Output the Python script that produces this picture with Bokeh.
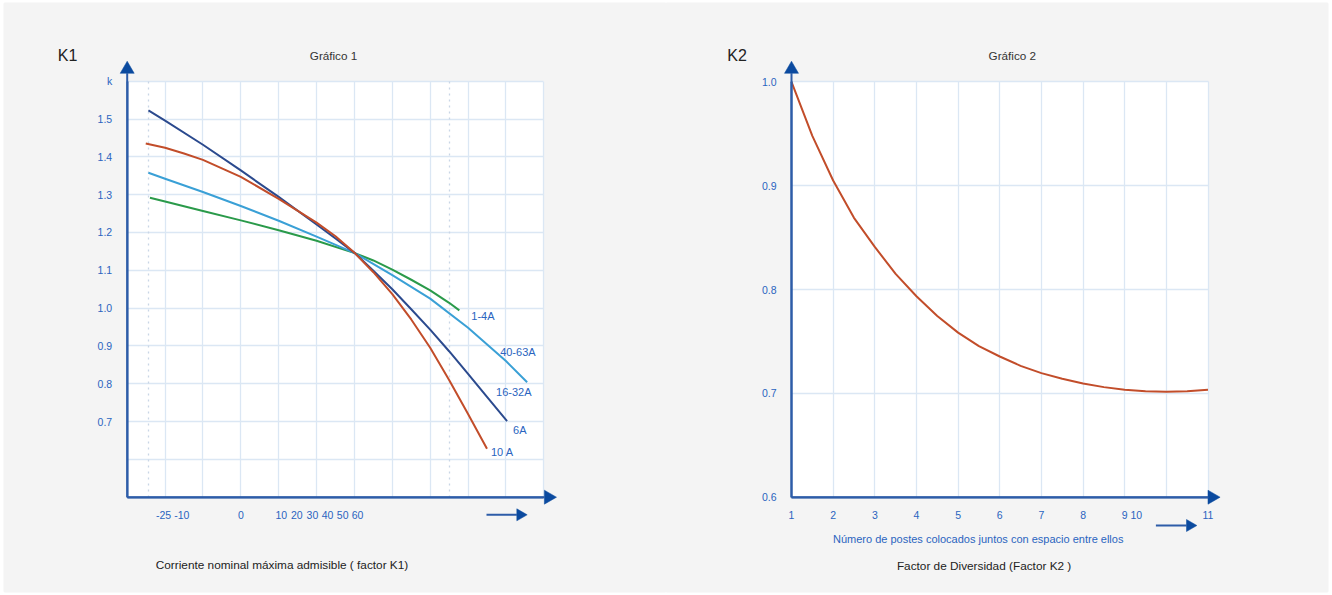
import math
from bokeh.plotting import figure
from bokeh.models import Range1d, FixedTicker, Grid, Label, AllLabels, BoxAnnotation
from bokeh.layouts import row
from bokeh.embed import file_html
from bokeh.resources import INLINE

# ---------------- DATA : Gráfico 1 (factor K1) ----------------
# x is measured in grid columns of the drawing (the scale is schematic)
k1_x_tick_labels = ["-25", "-10", "0", "10", "20", "30", "40", "50", "60"]
k1_x_tick_pos = [0.96, 1.44, 3.0, 4.07, 4.48, 4.89, 5.29, 5.69, 6.08]
k1_y_ticks = [0.6, 0.7, 0.8, 0.9, 1.0, 1.1, 1.2, 1.3, 1.4, 1.5, 1.6]
k1_y_tick_labels = ["", "0.7", "0.8", "0.9", "1.0", "1.1", "1.2", "1.3", "1.4", "1.5", "k"]
k1_grid_cols = [1, 2, 3, 4, 5, 6, 7, 8, 9, 10, 11]
k1_dotted_cols = [0.55, 8.5]

k1_series = ["1-4A", "40-63A", "16-32A", "6A", "10 A"]

x_1_4A = [0.60, 1, 2, 3, 4, 5, 6.01, 6.5, 7, 7.5, 8, 8.5, 8.77]
y_1_4A = [1.292, 1.282, 1.257, 1.232, 1.206, 1.178, 1.1455, 1.126, 1.102, 1.075, 1.047, 1.014, 0.994]

x_40_63A = [0.56, 1, 2, 3, 4, 5, 6.01, 7, 8, 9, 10, 10.56]
y_40_63A = [1.358, 1.342, 1.307, 1.270, 1.231, 1.189, 1.1455, 1.087, 1.025, 0.948, 0.860, 0.804]

x_6A = [0.56, 1, 2, 3, 4, 5, 5.5, 6.01, 6.5, 7, 7.5, 8, 8.5, 9, 9.5, 10.03]
y_6A = [1.523, 1.496, 1.432, 1.364, 1.294, 1.221, 1.184, 1.1455, 1.099, 1.050, 0.997, 0.943, 0.886, 0.826, 0.765, 0.701]

x_10A = [0.49, 1, 1.5, 2, 3, 4, 5, 5.5, 6.01, 6.5, 7, 7.5, 8, 8.5, 9, 9.5]
y_10A = [1.435, 1.424, 1.409, 1.392, 1.347, 1.289, 1.226, 1.190, 1.1455, 1.095, 1.037, 0.970, 0.895, 0.810, 0.720, 0.628]

# ---------------- DATA : Gráfico 2 (factor K2) ----------------
k2_x_tick_labels = ["1", "2", "3", "4", "5", "6", "7", "8", "9", "10", "11"]
k2_x_tick_pos = [1, 2, 3, 4, 5, 6, 7, 8, 9, 9.28, 11]
k2_y_ticks = [0.6, 0.7, 0.8, 0.9, 1.0]
k2_y_tick_labels = ["0.6", "0.7", "0.8", "0.9", "1.0"]
k2_grid_cols = [2, 3, 4, 5, 6, 7, 8, 9, 10, 11]
k2_grid_rows = [0.7, 0.8, 0.9, 1.0]

k2_x = [1, 1.5, 2, 2.5, 3, 3.5, 4, 4.5, 5, 5.5, 6, 6.5, 7, 7.5, 8, 8.5, 9, 9.5, 10, 10.5, 11]
k2_y = [1.000, 0.948, 0.905, 0.869, 0.841, 0.815, 0.7935, 0.7745, 0.7585, 0.7455, 0.7355,
        0.7265, 0.7195, 0.7140, 0.7095, 0.7060, 0.7035, 0.7020, 0.7015, 0.7020, 0.7035]

# ---------------- STYLE / LAYOUT (page pixels) ----------------
FONT = "Liberation Sans"
BG = "#f4f4f4"
GRID = "#dbe7f4"
AXIS = "#2d5ca8"
HEAD = "#0b4a9f"
TICK = "#2a64c0"
TEXT = "#222222"
COL = {"1-4A": "#2a9a4a", "40-63A": "#3aa0d6", "16-32A": "#2b4a8e", "6A": "#2b4a8e", "10 A": "#c24d2a"}
K2_COLOR = "#c24d2a"

W, H = 666, 595
L_AREA = dict(left=126.7, right=543.3, top=80.7, bottom=496.7)   # white plot area, chart 1
L_FRAME = dict(left=4, right=666, top=3, bottom=591)              # grey panel, chart 1
R_AREA = dict(left=791.0, right=1207.5, top=81.3, bottom=496.7)   # white plot area, chart 2
R_FRAME = dict(left=666, right=1327, top=3, bottom=591)           # grey panel, chart 2

HAS_CROSS_BOUNDS = "cross_bounds" in Grid.properties()


class Mapper:
    """page pixel <-> data conversion for one chart"""
    def __init__(self, area, xlim, ylim):
        self.a = area
        self.x0, self.x1 = xlim
        self.y0, self.y1 = ylim
        self.sx = (area["right"] - area["left"]) / (self.x1 - self.x0)
        self.sy = (area["bottom"] - area["top"]) / (self.y1 - self.y0)

    def x(self, px):
        return self.x0 + (px - self.a["left"]) / self.sx

    def y(self, py):
        return self.y0 + (self.a["bottom"] - py) / self.sy


def make_fig(m, frame, page_left):
    p = figure(width=W, height=H, title=None, output_backend="svg", toolbar_location=None,
               x_range=Range1d(m.x(frame["left"]), m.x(frame["right"])),
               y_range=Range1d(m.y(frame["bottom"]), m.y(frame["top"])),
               min_border_left=frame["left"] - page_left,
               min_border_right=page_left + W - frame["right"],
               min_border_top=frame["top"], min_border_bottom=H - frame["bottom"],
               background_fill_color=BG, border_fill_color="white",
               outline_line_color=BG, outline_line_width=2)
    # white plotting area
    p.add_layout(BoxAnnotation(left=m.x0, right=m.x1, bottom=m.y0, top=m.y1,
                               fill_color="white", fill_alpha=1.0, line_color=None,
                               level="image"))
    xa, ya = p.xaxis[0], p.yaxis[0]
    xa.fixed_location = m.y0
    xa.bounds = (m.x0, m.x1)
    ya.fixed_location = m.x0
    ya.bounds = (m.y0, m.y1)
    for ax in (xa, ya):
        ax.axis_line_color = AXIS
        ax.axis_line_width = 2
        ax.major_tick_out = 0
        ax.major_tick_in = 0
        ax.major_tick_line_color = None
        ax.minor_tick_line_color = None
        ax.major_label_text_color = TICK
        ax.major_label_text_font = FONT
        ax.major_label_text_font_size = "10.5px"
        ax.major_label_policy = AllLabels()
    xa.major_label_standoff = 14
    ya.major_label_standoff = 15
    return p


def grid(p, m, cols, rows, dotted_cols=None):
    specs = [(0, cols, "solid"), (1, rows, "solid")]
    if dotted_cols:
        specs.append((0, dotted_cols, "dotted"))
    p.xgrid[0].visible = False
    p.ygrid[0].visible = False
    for dim, ticks, dash in specs:
        color = GRID if dash == "solid" else "#c9d6e6"
        if HAS_CROSS_BOUNDS:
            cb = (m.y0, m.y1) if dim == 0 else (m.x0, m.x1)
            p.add_layout(Grid(dimension=dim, ticker=FixedTicker(ticks=ticks), cross_bounds=cb,
                              grid_line_color=color, grid_line_width=1.3, grid_line_dash=dash))
        else:
            for t in ticks:
                if dim == 0:
                    p.segment(t, m.y0, t, m.y1, line_color=color, line_width=1.3,
                              line_dash=dash, level="underlay")
                else:
                    p.segment(m.x0, t, m.x1, t, line_color=color, line_width=1.3,
                              line_dash=dash, level="underlay")


def arrow(p, m, px0, py0, px1, py1, size, width=2):
    """arrow in page pixels: body line + triangular head with tip at (px1, py1)"""
    h = size * math.sqrt(3) / 2
    if py0 == py1:      # pointing right
        base_x, base_y = px1 - h, py1
        cx, cy, ang = px1 - 2 * h / 3, py1, -math.pi / 2
    else:               # pointing up
        base_x, base_y = px1, py1 + h
        cx, cy, ang = px1, py1 + 2 * h / 3, 0.0
    p.segment(m.x(px0), m.y(py0), m.x(base_x), m.y(base_y), line_color=AXIS, line_width=width)
    p.scatter([m.x(cx)], [m.y(cy)], marker="triangle", size=size, angle=ang,
              fill_color=HEAD, line_color=HEAD, line_width=0.5)


def text(p, m, px, py, s, size, color, align="left"):
    p.add_layout(Label(x=m.x(px), y=m.y(py), text=s, text_font=FONT, text_font_size=size,
                       text_color=color, text_align=align, text_baseline="middle"))


# ---------------- Gráfico 1 ----------------
m1 = Mapper(L_AREA, (0, 11), (0.5, 1.6))
p1 = make_fig(m1, L_FRAME, 0)
p1.xaxis[0].ticker = FixedTicker(ticks=k1_x_tick_pos)
p1.xaxis[0].major_label_overrides = dict(zip(k1_x_tick_pos, k1_x_tick_labels))
p1.yaxis[0].ticker = FixedTicker(ticks=k1_y_ticks)
p1.yaxis[0].major_label_overrides = dict(zip(k1_y_ticks, k1_y_tick_labels))
grid(p1, m1, k1_grid_cols, k1_y_ticks, k1_dotted_cols)

curves1 = {"1-4A": (x_1_4A, y_1_4A), "40-63A": (x_40_63A, y_40_63A),
           "16-32A": (x_6A, y_6A), "10 A": (x_10A, y_10A)}
for name in ["1-4A", "40-63A", "16-32A", "10 A"]:
    xs, ys = curves1[name]
    p1.line(xs, ys, line_color=COL[name], line_width=2, line_join="round")

# curve labels, anchored at the end of their curve (pixel offsets)
lab_anchor = {"1-4A": (x_1_4A, y_1_4A, 12, -6), "40-63A": (x_40_63A, y_40_63A, -27, 30),
              "16-32A": (x_6A, y_6A, -11, 29), "6A": (x_6A, y_6A, 6, -9),
              "10 A": (x_10A, y_10A, 4, -3)}
for name in k1_series:
    xs, ys, xo, yo = lab_anchor[name]
    p1.add_layout(Label(x=xs[-1], y=ys[-1], text=name, text_font=FONT, text_font_size="11px",
                        text_color=TICK, text_baseline="middle", x_offset=xo, y_offset=yo))

arrow(p1, m1, 126.7, 496.7, 126.7, 60.7, 14)
arrow(p1, m1, 126.7, 496.7, 556.0, 496.7, 14)
arrow(p1, m1, 486.0, 514.3, 526.7, 514.3, 12)
text(p1, m1, 57.3, 55, "K1", "16px", TEXT)
text(p1, m1, 333, 55, "Gráfico 1", "11.7px", "#333333", "center")
text(p1, m1, 281.5, 564, "Corriente nominal máxima admisible ( factor K1)", "11.8px", TEXT, "center")

# ---------------- Gráfico 2 ----------------
m2 = Mapper(R_AREA, (1, 11), (0.6, 1.0))
p2 = make_fig(m2, R_FRAME, W)
p2.xaxis[0].ticker = FixedTicker(ticks=k2_x_tick_pos)
p2.xaxis[0].major_label_overrides = dict(zip(k2_x_tick_pos, k2_x_tick_labels))
p2.yaxis[0].ticker = FixedTicker(ticks=k2_y_ticks)
p2.yaxis[0].major_label_overrides = dict(zip(k2_y_ticks, k2_y_tick_labels))
grid(p2, m2, k2_grid_cols, k2_grid_rows)

p2.line(k2_x, k2_y, line_color=K2_COLOR, line_width=2, line_join="round")

arrow(p2, m2, 791.0, 496.7, 791.0, 60.7, 14)
arrow(p2, m2, 791.0, 496.7, 1219.6, 496.7, 14)
arrow(p2, m2, 1155.4, 525.0, 1196.4, 525.0, 12)
text(p2, m2, 726.8, 55, "K2", "16px", TEXT)
text(p2, m2, 1011.8, 55, "Gráfico 2", "11.7px", "#333333", "center")
text(p2, m2, 977.7, 538.3, "Número de postes colocados juntos con espacio entre ellos", "11px", TICK, "center")
text(p2, m2, 983.6, 565.7, "Factor de Diversidad (Factor K2 )", "11.8px", TEXT, "center")

layout = row(p1, p2)
open("out.html", "w").write(file_html(layout, INLINE))
